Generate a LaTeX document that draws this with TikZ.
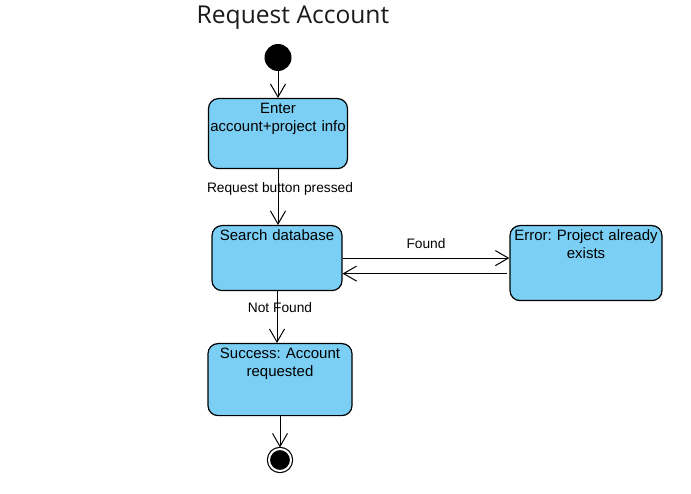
\documentclass[tikz,border=0pt]{standalone}
\usepackage{fontspec}
\setmainfont{Liberation Sans}
\newfontfamily\titlefont{Open Sans}
\usetikzlibrary{arrows.meta,positioning,calc}
\definecolor{stateblue}{HTML}{7BCFF4}
\definecolor{inkgray}{HTML}{1A1A1A}
\frenchspacing

\begin{document}
\begin{tikzpicture}[x=1pt,y=-1pt,
 state/.style={draw,line width=1.2pt,rounded corners=10pt,fill=stateblue,anchor=north,align=center,inner xsep=1pt,inner ysep=3pt,text height=12.4pt,font=\fontsize{15}{18}\selectfont},
 startdot/.style={circle,fill=black,inner sep=0pt,minimum size=27pt},
 enddot/.style={circle,draw,fill=black,line width=1.2pt,double=white,double distance=2pt,inner sep=0pt,minimum size=22pt},
 trans/.style={line width=1pt,-{Straight Barb[length=13pt,width=15pt]}},
 lbl/.style={font=\fontsize{13.75}{16}\selectfont,inner sep=0pt}]
\useasboundingbox (0,0) rectangle (691,494);

\node[font=\titlefont\fontsize{24.6}{28}\selectfont,text=inkgray] (title) at (293,17.5) {Request Account};

\node[startdot] (init) at (278,57.5) {};
\node[state,text width=137pt,text depth=51.6pt] (enter) at (278,98) {Enter\\account+project info};
\node[state,text width=128pt,text depth=46.6pt] (search) at (277,225) {Search database};
\node[state,text width=150pt,text depth=56.6pt] (error) at (586,225) {Error: Project already\\exists};
\node[state,text width=142pt,text depth=53.6pt] (success) at (280,343) {Success: Account\\requested};
\node[enddot] (final) at (280,460) {};

\coordinate (ret) at ($(error.west)+(-2,10.5)$);

\draw[trans] (init) -- (enter);
\draw[trans] (enter.south) -- node[lbl,pos=0.36,xshift=2pt]{Request button pressed} (enter.south |- search.north);
\draw[trans] (search.east) -- node[lbl,above=9pt]{Found} (search.east -| error.west);
\draw[trans] (ret) -- (search.east |- ret);
\draw[trans] (search.south) -- node[lbl,pos=0.32,xshift=3pt]{Not Found} (search.south |- success.north);
\draw[trans,shorten >=1pt] (success) -- (final);
\end{tikzpicture}
\end{document}
